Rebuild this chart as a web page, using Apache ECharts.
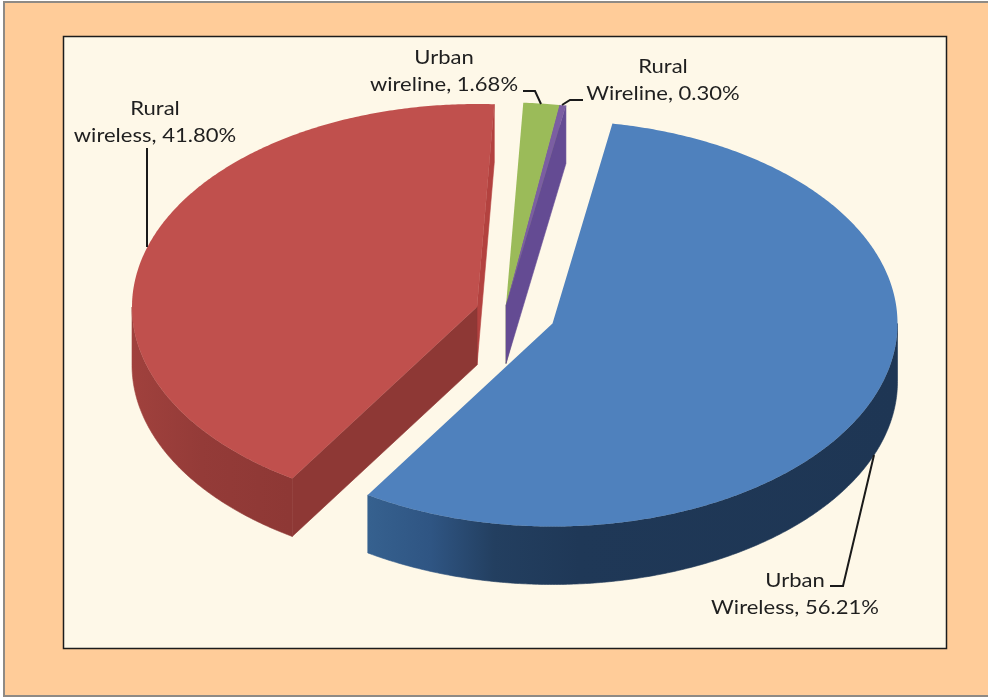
<!DOCTYPE html>
<html>
<head>
<meta charset="utf-8">
<title>Share of subscribers</title>
<style>
html,body{margin:0;padding:0;background:#fff;}
#main{width:988px;height:698px;}
</style>
<script src="https://cdn.jsdelivr.net/npm/echarts@6/dist/echarts.min.js"></script>
</head>
<body>
<div id="main"></div>
<script>
var sliceNames = ["Urban\nWireless", "Rural\nwireless", "Urban\nwireline", "Rural\nWireline"];
var sliceValues = [56.21, 41.80, 1.68, 0.30];
var topColors = ["#4f81bd", "#c0504d", "#9bbb59", "#7b5ea2"];
var faceColors = ["#1f3857", "#8e3835", "#76903f", "#644b93"];
var endFaceColors = ["#1f3857", "#b3423f", "#76903f", "#644b93"];

// layout of the tilted pie (not data)
var startAngle = 10, rx = 345, ry = 203, depth = 58;
var centers = [[552.5, 323.5], [477, 307], [506, 305.5], [506, 305.5]];
var labelPos = [[795, 594], [155, 122], [444, 71], [663, 80]];
var leaders = [
	[[830, 586], [843, 586], [874, 455]],
	[[147, 148], [147, 247]],
	[[523, 91], [535, 91], [541, 104]],
	[[583, 100], [570, 100], [562, 105]]
];
var sideStops = [
	[[0, "#36618f"], [0.12, "#2f5583"], [0.24, "#233f60"], [0.4, "#1f3857"], [1, "#1e3654"]],
	[[0, "#a0413d"], [0.2, "#943b38"], [0.45, "#8e3835"], [1, "#8e3835"]]
];
var sideRange = [[367, 897], [132, 480]];

var total = 0;
for (var n = 0; n < sliceValues.length; n++) total += sliceValues[n];

function rimPoint(c, deg, drop) {
	var t = deg * Math.PI / 180;
	return [c[0] + rx * Math.sin(t), c[1] - ry * Math.cos(t) + (drop || 0)];
}

function renderSlice(params, api) {
	var i = params.dataIndex, c = centers[i];
	var before = 0;
	for (var k = 0; k < i; k++) before += sliceValues[k];
	var a0 = startAngle + before / total * 360;
	var a1 = a0 + api.value(0) / total * 360;
	var children = [];

	function wall(deg, color) {
		var p = rimPoint(c, deg);
		children.push({
			type: "polygon",
			shape: {points: [c, p, [p[0], p[1] + depth], [c[0], c[1] + depth]]},
			style: {fill: color, stroke: color, lineWidth: 0.6}
		});
	}
	if (Math.sin(a1 * Math.PI / 180) > 0) wall(a1, endFaceColors[i]);
	if (Math.sin(a0 * Math.PI / 180) < 0) wall(a0, faceColors[i]);

	// outer rim, only the part facing the viewer
	var from = Math.max(a0, 90), to = Math.min(a1, 270);
	if (to > from) {
		var upper = [], lower = [];
		for (var d = from; d < to; d += 0.5) {
			upper.push(rimPoint(c, d));
			lower.unshift(rimPoint(c, d, depth));
		}
		upper.push(rimPoint(c, to));
		lower.unshift(rimPoint(c, to, depth));
		var fill = faceColors[i];
		if (sideStops[i]) {
			var stops = [];
			for (var s = 0; s < sideStops[i].length; s++) {
				stops.push({offset: sideStops[i][s][0], color: sideStops[i][s][1]});
			}
			fill = new echarts.graphic.LinearGradient(sideRange[i][0], 0, sideRange[i][1], 0, stops, true);
		}
		children.push({type: "polygon", shape: {points: upper.concat(lower)}, style: {fill: fill, stroke: fill, lineWidth: 0.6}});
	}

	var top = [c];
	for (var e = a0; e < a1; e += 0.5) top.push(rimPoint(c, e));
	top.push(rimPoint(c, a1));
	children.push({type: "polygon", shape: {points: top}, style: {fill: topColors[i]}});

	children.push({
		type: "polyline",
		shape: {points: leaders[i]},
		style: {fill: "none", stroke: "#1a1a1a", lineWidth: 2},
		z2: 5
	});
	children.push({
		type: "text",
		x: labelPos[i][0],
		y: labelPos[i][1],
		scaleX: 1.16,
		style: {
			text: api.value(1) + ", " + api.value(0).toFixed(2) + "%",
			font: "19px Lato, 'Open Sans', sans-serif",
			fill: "#1f1f1f",
			align: "center",
			verticalAlign: "middle",
			lineHeight: 27
		},
		z2: 6
	});
	return {type: "group", children: children};
}

var seriesData = [];
for (var m = 0; m < sliceValues.length; m++) {
	seriesData.push([sliceValues[m], sliceNames[m]]);
}

var chart = echarts.init(document.getElementById("main"), null, {renderer: "canvas"});
chart.setOption({
	animation: false,
	backgroundColor: "#ffffff",
	graphic: [
		{type: "rect", z: 0, shape: {x: 4, y: 2, width: 990, height: 694},
			style: {fill: "#ffcc99", stroke: "#8e8a85", lineWidth: 2}},
		{type: "rect", z: 0, shape: {x: 63.5, y: 36.5, width: 883, height: 612},
			style: {fill: "#fef8e8", stroke: "#1c1c1c", lineWidth: 1.5}}
	],
	series: [{
		type: "custom",
		coordinateSystem: "none",
		z: 5,
		silent: true,
		renderItem: renderSlice,
		data: seriesData
	}]
});
</script>
</body>
</html>
